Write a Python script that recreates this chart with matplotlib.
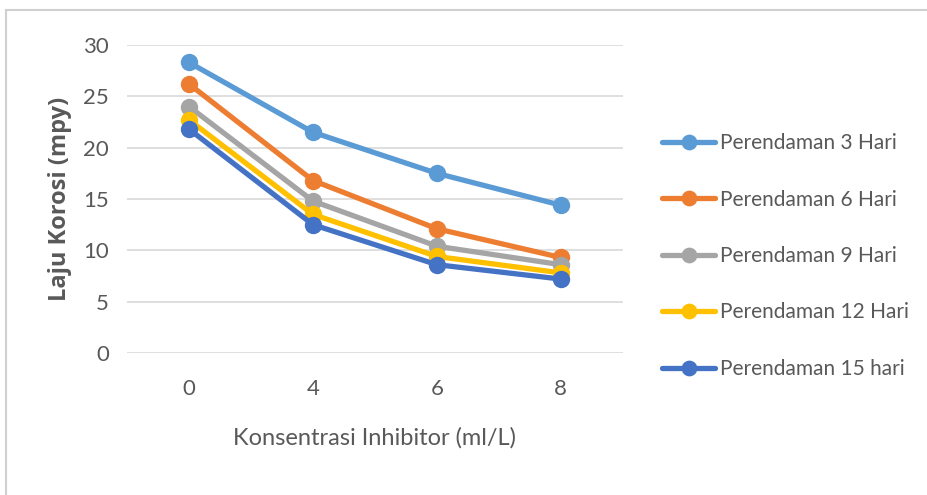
import matplotlib
matplotlib.use("Agg")
import matplotlib.pyplot as plt
from matplotlib.patches import Rectangle

plt.rcParams['font.family'] = ['Lato', 'DejaVu Sans']

konsentrasi = ["0", "4", "6", "8"]
labels = ["Perendaman 3 Hari", "Perendaman 6 Hari", "Perendaman 9 Hari",
          "Perendaman 12 Hari", "Perendaman 15 hari"]
hari_3 = [28.3, 21.5, 17.5, 14.4]
hari_6 = [26.2, 16.8, 12.1, 9.3]
hari_9 = [24.0, 14.8, 10.4, 8.6]
hari_12 = [22.7, 13.5, 9.4, 7.8]
hari_15 = [21.8, 12.5, 8.6, 7.2]
series = [hari_3, hari_6, hari_9, hari_12, hari_15]
colors = ["#5B9BD5", "#ED7D31", "#A5A5A5", "#FFC000", "#4472C4"]

fig = plt.figure(figsize=(9.28, 4.95), dpi=100)
ax = fig.add_axes([0.137, 0.287, 0.534, 0.622])

xs = range(len(konsentrasi))
for vals, lab, c in zip(series, labels, colors):
    ax.plot(xs, vals, color=c, lw=3.8, marker="o", markersize=11.5,
            solid_capstyle="round", label=lab)

ax.set_xlim(-0.5, 3.5)
ax.set_ylim(0, 30)
ax.set_yticks(range(0, 31, 5))
ax.set_xticks(list(xs))
ax.set_xticklabels(konsentrasi)
ax.grid(axis='y', color="#D9D9D9", lw=1.2)
ax.set_axisbelow(True)
for s in ax.spines.values():
    s.set_visible(False)
ax.tick_params(length=0, labelsize=16, colors="#595959")
ax.tick_params(axis='y', pad=13)
ax.tick_params(axis='x', pad=19)

ax.set_xlabel("Konsentrasi Inhibitor (ml/L)", fontsize=17, color="#595959", labelpad=20)
ax.set_ylabel("Laju Korosi (mpy)", fontsize=17, color="#595959",
              fontweight="bold", family=["Open Sans", "DejaVu Sans"])
ax.yaxis.set_label_coords(-0.111, 0.5)

leg = ax.legend(loc="center left", bbox_to_anchor=(662 / 928, 1 - 256 / 495),
                bbox_transform=fig.transFigure, frameon=False, borderpad=0,
                borderaxespad=0, fontsize=15, labelcolor="#595959",
                handlelength=2.55, handletextpad=0.25, labelspacing=1.75,
                markerscale=0.9)

fig.patches.append(Rectangle((0.006, -0.01), 1.0, 0.99, transform=fig.transFigure,
                             fill=False, edgecolor="#D0D0D0", lw=1.5))

fig.savefig("out.png", dpi=100)
